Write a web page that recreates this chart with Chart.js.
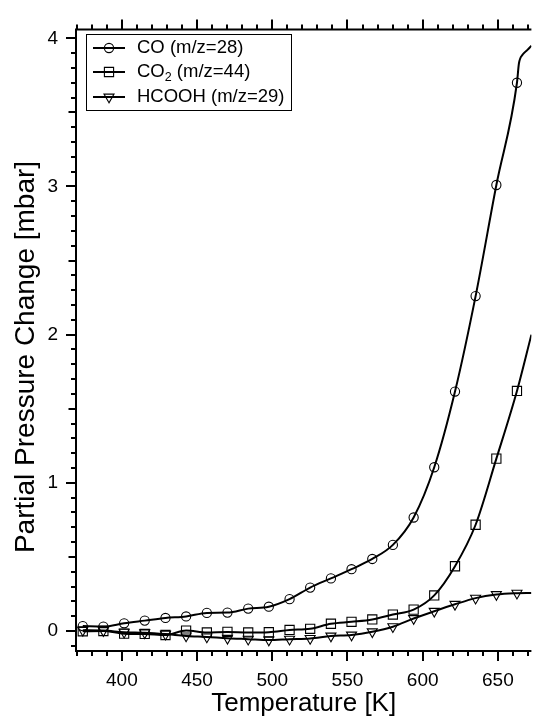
<!DOCTYPE html>
<html>
<head>
<meta charset="utf-8">
<script src="https://cdn.jsdelivr.net/npm/chart.js@4/dist/chart.umd.min.js"></script>
<style>
  html, body { margin: 0; padding: 0; background: #fff; }
  #wrap { width: 539px; height: 717px; position: relative; }
</style>
</head>
<body>
<div id="wrap"><canvas id="c" width="539" height="717"></canvas></div>
<script>
// ---- data ----
const temps = [374, 387.7, 401.5, 415.2, 429, 442.7, 456.5, 470.2, 484, 497.7, 511.5,
               525.2, 539, 552.7, 566.5, 580.2, 594, 607.7, 621.5, 635.2, 649, 662.7];
const coVals = [0.033, 0.030, 0.052, 0.070, 0.088, 0.098, 0.122, 0.124, 0.151, 0.164, 0.215,
                0.293, 0.355, 0.417, 0.486, 0.581, 0.766, 1.105, 1.616, 2.26, 3.01, 3.70];
const co2Vals = [-0.002, 0.000, -0.018, -0.020, -0.027, 0.003, -0.010, -0.006, -0.010, -0.008, 0.007,
                 0.015, 0.049, 0.062, 0.078, 0.111, 0.144, 0.240, 0.437, 0.717, 1.163, 1.62];
const hcoohVals = [0.005, 0.003, -0.008, -0.012, -0.021, -0.033, -0.040, -0.049, -0.055, -0.061, -0.055,
                   -0.050, -0.034, -0.027, -0.005, 0.029, 0.084, 0.133, 0.180, 0.222, 0.246, 0.255];
// curve continuation past the last marker
const coTailT = [664, 666.5, 669.5, 672.3];
const coTail = [3.83, 3.89, 3.92, 3.95];
const co2TailT = [672.3];
const co2Tail = [2.0];
const hcoohTailT = [672.3];
const hcoohTail = [0.257];

const seriesNames = ['CO (m/z=28)', 'CO2 (m/z=44)', 'HCOOH (m/z=29)'];
const legendParts = [['CO', '', ' (m/z=28)'], ['CO', '2', ' (m/z=44)'], ['HCOOH', '', ' (m/z=29)']];
const xTicksMajor = [400, 450, 500, 550, 600, 650];
const yTicksMajor = [0, 1, 2, 3, 4];
const xTitle = 'Temperature [K]';
const yTitle = 'Partial Pressure Change [mbar]';

const FONT = "'Liberation Sans', Arial, Helvetica, sans-serif";
const pts = (xs, ys) => xs.map((x, i) => ({x: x, y: ys[i]}));

const styles = [
  {pointStyle: 'circle', radius: 4.6, rotation: 0},
  {pointStyle: 'rect', radius: 6.5, rotation: 0},
  {pointStyle: 'triangle', radius: 5.8, rotation: 180}
];
const series = [
  [coVals, coTailT, coTail],
  [co2Vals, co2TailT, co2Tail],
  [hcoohVals, hcoohTailT, hcoohTail]
];

const datasets = [];
series.forEach((s, i) => {
  datasets.push({
    label: seriesNames[i] + ' curve',
    data: pts(temps.concat(s[1]), s[0].concat(s[2])),
    borderColor: '#000', borderWidth: 2, pointRadius: 0,
    cubicInterpolationMode: 'monotone', fill: false, order: 2
  });
  datasets.push({
    label: seriesNames[i],
    data: pts(temps, s[0]),
    showLine: false,
    pointStyle: styles[i].pointStyle,
    pointRadius: styles[i].radius,
    pointRotation: styles[i].rotation,
    pointBorderColor: '#000',
    pointBackgroundColor: 'rgba(0,0,0,0)',
    pointBorderWidth: 1.1, order: 1
  });
});

function drawMarker(ctx, style, x, y) {
  ctx.save();
  ctx.fillStyle = 'rgba(0,0,0,0)';
  ctx.strokeStyle = '#000';
  ctx.lineWidth = 1.1;
  if (Chart.helpers && Chart.helpers.drawPoint) {
    Chart.helpers.drawPoint(ctx, {pointStyle: style.pointStyle, radius: style.radius,
      rotation: style.rotation, borderWidth: 1.1}, x, y);
  }
  ctx.restore();
}

const axesPlugin = {
  id: 'axesPlugin',
  afterDraw(chart) {
    const ctx = chart.ctx;
    const xs = chart.scales.x, ys = chart.scales.y;
    const a = chart.chartArea;
    ctx.save();
    ctx.strokeStyle = '#000';
    ctx.lineWidth = 2;
    ctx.lineCap = 'butt';
    // axis lines: left, bottom, top
    ctx.beginPath();
    ctx.moveTo(a.left, a.top - 1); ctx.lineTo(a.left, a.bottom + 1);
    ctx.moveTo(a.left - 1, a.bottom); ctx.lineTo(a.right, a.bottom);
    ctx.moveTo(a.left - 1, a.top); ctx.lineTo(a.right, a.top);
    ctx.stroke();
    // x ticks every 10 K, longer every 50 K
    ctx.beginPath();
    for (let v = Math.ceil(xs.min / 10) * 10; v <= xs.max; v += 10) {
      const px = Math.round(xs.getPixelForValue(v));
      const len = (v % 50 === 0) ? 10 : 5;
      ctx.moveTo(px, a.bottom); ctx.lineTo(px, a.bottom + len);
      ctx.moveTo(px, a.top); ctx.lineTo(px, a.top - len);
    }
    // y ticks every 0.1, medium every 0.5, long every 1
    for (let k = Math.ceil(ys.min * 10); k <= Math.floor(ys.max * 10); k++) {
      const py = Math.round(ys.getPixelForValue(k / 10));
      const len = (k % 10 === 0) ? 10 : ((k % 5 === 0) ? 7.5 : 5);
      ctx.moveTo(a.left, py); ctx.lineTo(a.left - len, py);
    }
    ctx.stroke();

    // y axis title (centred on the figure height like the original)
    ctx.save();
    ctx.translate(26, 357);
    ctx.rotate(-Math.PI / 2);
    ctx.fillStyle = '#000';
    ctx.font = '28px ' + FONT;
    ctx.textAlign = 'center';
    ctx.textBaseline = 'middle';
    ctx.fillText(yTitle, 0, 0);
    ctx.restore();

    // legend
    const bx = 86.5, by = 34.5, bw = 205, bh = 76;
    ctx.fillStyle = '#fff';
    ctx.fillRect(bx, by, bw, bh);
    ctx.lineWidth = 1;
    ctx.strokeStyle = '#000';
    ctx.strokeRect(bx, by, bw, bh);
    const rowsY = [48, 72, 97];
    legendParts.forEach((parts, i) => {
      const y = rowsY[i];
      ctx.lineWidth = 2;
      ctx.strokeStyle = '#000';
      ctx.beginPath(); ctx.moveTo(93, y); ctx.lineTo(125, y); ctx.stroke();
      drawMarker(ctx, styles[i], 109, y);
      ctx.fillStyle = '#000';
      ctx.textBaseline = 'middle';
      ctx.textAlign = 'left';
      let tx = 137;
      ctx.font = '18.5px ' + FONT;
      ctx.fillText(parts[0], tx, y);
      tx += ctx.measureText(parts[0]).width;
      if (parts[1]) {
        ctx.font = '12.5px ' + FONT;
        ctx.fillText(parts[1], tx, y + 6);
        tx += ctx.measureText(parts[1]).width;
      }
      ctx.font = '18.5px ' + FONT;
      ctx.fillText(parts[2], tx, y);
    });
    ctx.restore();
  }
};

new Chart(document.getElementById('c'), {
  type: 'line',
  data: {datasets: datasets},
  options: {
    responsive: false,
    animation: false,
    devicePixelRatio: 1,
    layout: {padding: {left: 0, right: 6, top: 21, bottom: 0}},
    plugins: {legend: {display: false}, tooltip: {enabled: false}},
    scales: {
      x: {
        type: 'linear', min: 369.5, max: 672.3,
        grid: {display: false, drawTicks: false}, border: {display: false},
        ticks: {
          stepSize: 50, includeBounds: false, autoSkip: false, maxRotation: 0,
          color: '#000', font: {family: FONT, size: 19}, padding: 18,
          callback: (v) => xTicksMajor.includes(v) ? String(v) : ''
        },
        title: {display: true, text: xTitle, color: '#000',
               font: {family: FONT, size: 26, lineHeight: 1}, padding: {top: 0, bottom: 0}},
        afterFit: (s) => { s.height = 66; }
      },
      y: {
        type: 'linear', min: -0.135, max: 4.06,
        grid: {display: false, drawTicks: false}, border: {display: false},
        ticks: {
          stepSize: 1, includeBounds: false, autoSkip: false,
          color: '#000', font: {family: FONT, size: 19}, padding: 18,
          callback: (v) => yTicksMajor.includes(v) ? String(v) : ''
        },
        title: {display: false},
        afterFit: (s) => { s.width = 76; }
      }
    }
  },
  plugins: [axesPlugin]
});
</script>
</body>
</html>
